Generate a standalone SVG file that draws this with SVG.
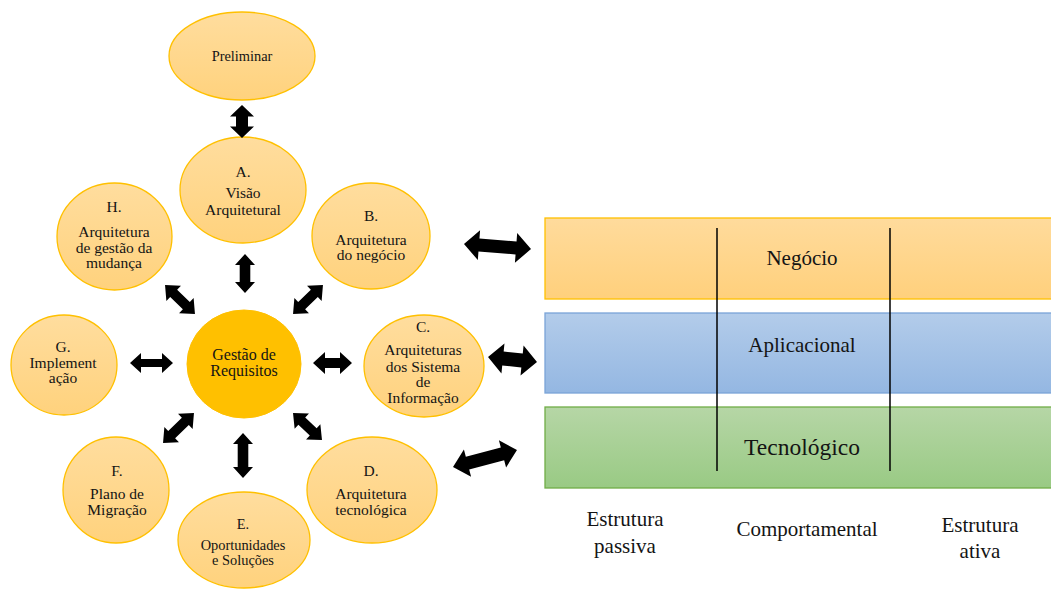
<svg xmlns="http://www.w3.org/2000/svg" width="1051" height="589" viewBox="0 0 1051 589">
  <defs>
    <linearGradient id="gOrange" x1="0" y1="0" x2="0" y2="1">
      <stop offset="0" stop-color="#FFDD9E"/>
      <stop offset="1" stop-color="#FFD27D"/>
    </linearGradient>
    <linearGradient id="gBand1" x1="0" y1="0" x2="0" y2="1">
      <stop offset="0" stop-color="#FFDB9C"/>
      <stop offset="1" stop-color="#FFD07C"/>
    </linearGradient>
    <linearGradient id="gBand2" x1="0" y1="0" x2="0" y2="1">
      <stop offset="0" stop-color="#B3CCEA"/>
      <stop offset="1" stop-color="#94B7E2"/>
    </linearGradient>
    <linearGradient id="gBand3" x1="0" y1="0" x2="0" y2="1">
      <stop offset="0" stop-color="#B6D6A6"/>
      <stop offset="1" stop-color="#99CA84"/>
    </linearGradient>
  </defs>
  <style>
    .node{fill:url(#gOrange);stroke:#FFC000;stroke-width:1.3}
    .hub{fill:#FFC000;stroke:#FFC000;stroke-width:1}
    .t{font-family:"Liberation Serif","Times New Roman",serif;font-size:15.5px;fill:#141414;text-anchor:middle}
    .s{font-size:14.4px}
    .big{font-size:21px}
    .arr{fill:#000}
    .divider{stroke:#000;stroke-width:1.5}
  </style>
  <rect width="1051" height="589" fill="#fff"/>

  <!-- architecture layers -->
  <g id="layer-negocio">
    <rect x="545" y="218" width="510" height="81" fill="url(#gBand1)" stroke="#FFC000" stroke-width="1.3"/>
    <text class="t big" x="802" y="265">Negócio</text>
  </g>
  <g id="layer-aplicacional">
    <rect x="545" y="313" width="510" height="80" fill="url(#gBand2)" stroke="#7AA4D8" stroke-width="1.3"/>
    <text class="t big" x="802" y="352">Aplicacional</text>
  </g>
  <g id="layer-tecnologico">
    <rect x="545" y="407" width="510" height="81" fill="url(#gBand3)" stroke="#70AD47" stroke-width="1.3"/>
    <text class="t" x="802" y="455" style="font-size:23.5px">Tecnológico</text>
  </g>
  <g id="dividers">
    <line class="divider" x1="717" y1="228" x2="717" y2="471"/>
    <line class="divider" x1="890" y1="228" x2="890" y2="471"/>
  </g>
  <g id="aspects">
    <text class="t big" x="625" y="526">Estrutura</text>
    <text class="t big" x="625" y="553">passiva</text>
    <text class="t big" x="807" y="536">Comportamental</text>
    <text class="t big" x="980" y="532">Estrutura</text>
    <text class="t big" x="980" y="558">ativa</text>
  </g>

  <!-- ADM phases -->
  <g id="preliminar">
    <ellipse class="node" cx="242" cy="56" rx="73" ry="44"/>
    <text class="t s" x="242" y="61">Preliminar</text>
  </g>
  <g id="fase-a">
    <ellipse class="node" cx="243" cy="190" rx="63" ry="53"/>
    <text class="t" x="243" y="177">A.</text>
    <text class="t" x="243" y="198">Visão</text>
    <text class="t" x="243" y="215">Arquitetural</text>
  </g>
  <g id="fase-h">
    <ellipse class="node" cx="114.5" cy="236.5" rx="57.5" ry="53.5"/>
    <text class="t" x="114" y="212">H.</text>
    <text class="t" x="114" y="237">Arquitetura</text>
    <text class="t" x="114" y="253">de gestão da</text>
    <text class="t" x="114" y="268">mudança</text>
  </g>
  <g id="fase-b">
    <ellipse class="node" cx="371" cy="236" rx="59" ry="53"/>
    <text class="t" x="371" y="221">B.</text>
    <text class="t" x="371" y="245">Arquitetura</text>
    <text class="t" x="371" y="260">do negócio</text>
  </g>
  <g id="gestao-requisitos">
    <ellipse class="hub" cx="244" cy="364" rx="57" ry="54"/>
    <text class="t" x="244" y="360" style="font-size:16px">Gestão de</text>
    <text class="t" x="244" y="376" style="font-size:16px">Requisitos</text>
  </g>
  <g id="fase-c">
    <ellipse class="node" cx="424" cy="366" rx="60" ry="51"/>
    <text class="t" x="423" y="332">C.</text>
    <text class="t" x="423" y="355">Arquiteturas</text>
    <text class="t" x="423" y="372">dos Sistema</text>
    <text class="t" x="423" y="387">de</text>
    <text class="t" x="423" y="403">Informação</text>
  </g>
  <g id="fase-g">
    <ellipse class="node" cx="64" cy="365" rx="53" ry="50"/>
    <text class="t" x="63" y="352">G.</text>
    <text class="t" x="63" y="368">Implement</text>
    <text class="t" x="63" y="383">ação</text>
  </g>
  <g id="fase-f">
    <ellipse class="node" cx="116" cy="490" rx="53" ry="53"/>
    <text class="t" x="117" y="476">F.</text>
    <text class="t" x="117" y="499">Plano de</text>
    <text class="t" x="117" y="515">Migração</text>
  </g>
  <g id="fase-e">
    <ellipse class="node" cx="244" cy="540" rx="66" ry="48"/>
    <text class="t s" x="243" y="529">E.</text>
    <text class="t s" x="243" y="550">Oportunidades</text>
    <text class="t s" x="243" y="565">e Soluções</text>
  </g>
  <g id="fase-d">
    <ellipse class="node" cx="372" cy="490" rx="65" ry="53"/>
    <text class="t" x="371" y="476">D.</text>
    <text class="t" x="371" y="499">Arquitetura</text>
    <text class="t" x="371" y="515">tecnológica</text>
  </g>

  <!-- double-headed block arrows -->
  <g id="connectors" class="arr">
    <polygon transform="translate(242,121.5) rotate(90)" points="-16.5,0 -5,-12 -5,-6 5,-6 5,-12 16.5,0 5,12 5,6 -5,6 -5,12"/>
    <polygon transform="translate(245,273.5) rotate(90)" points="-19.5,0 -8.5,-10 -8.5,-5.3 8.5,-5.3 8.5,-10 19.5,0 8.5,10 8.5,5.3 -8.5,5.3 -8.5,10"/>
    <polygon transform="translate(243,455.5) rotate(90)" points="-22.5,0 -11.5,-10 -11.5,-5.3 11.5,-5.3 11.5,-10 22.5,0 11.5,10 11.5,5.3 -11.5,5.3 -11.5,10"/>
    <polygon transform="translate(151.5,363)" points="-21.5,0 -10.5,-10 -10.5,-4 10.5,-4 10.5,-10 21.5,0 10.5,10 10.5,4 -10.5,4 -10.5,10"/>
    <polygon transform="translate(332.5,363)" points="-19.5,0 -7.5,-11 -7.5,-5 7.5,-5 7.5,-11 19.5,0 7.5,11 7.5,5 -7.5,5 -7.5,11"/>
    <polygon transform="translate(180,299.5) rotate(44)" points="-20.8,0 -8.8,-10.5 -8.8,-5 8.8,-5 8.8,-10.5 20.8,0 8.8,10.5 8.8,5 -8.8,5 -8.8,10.5"/>
    <polygon transform="translate(308,299.5) rotate(-44)" points="-20.8,0 -8.8,-10.5 -8.8,-5 8.8,-5 8.8,-10.5 20.8,0 8.8,10.5 8.8,5 -8.8,5 -8.8,10.5"/>
    <polygon transform="translate(178.5,428) rotate(-44)" points="-21.5,0 -9.5,-10.5 -9.5,-5 9.5,-5 9.5,-10.5 21.5,0 9.5,10.5 9.5,5 -9.5,5 -9.5,10.5"/>
    <polygon transform="translate(307.5,426.5) rotate(43)" points="-19.8,0 -7.8,-10.5 -7.8,-5 7.8,-5 7.8,-10.5 19.8,0 7.8,10.5 7.8,5 -7.8,5 -7.8,10.5"/>
    <polygon transform="translate(497.5,246.5) rotate(4.3)" points="-33.6,0 -18.6,-15 -18.6,-6.5 18.6,-6.5 18.6,-15 33.6,0 18.6,15 18.6,6.5 -18.6,6.5 -18.6,15"/>
    <polygon transform="translate(512.5,359.5) rotate(5.8)" points="-24.6,0 -9.6,-15 -9.6,-7 9.6,-7 9.6,-15 24.6,0 9.6,15 9.6,7 -9.6,7 -9.6,15"/>
    <polygon transform="translate(485,458.5) rotate(-14.9)" points="-33.1,0 -18.1,-14 -18.1,-6.5 18.1,-6.5 18.1,-14 33.1,0 18.1,14 18.1,6.5 -18.1,6.5 -18.1,14"/>
  </g>
</svg>
